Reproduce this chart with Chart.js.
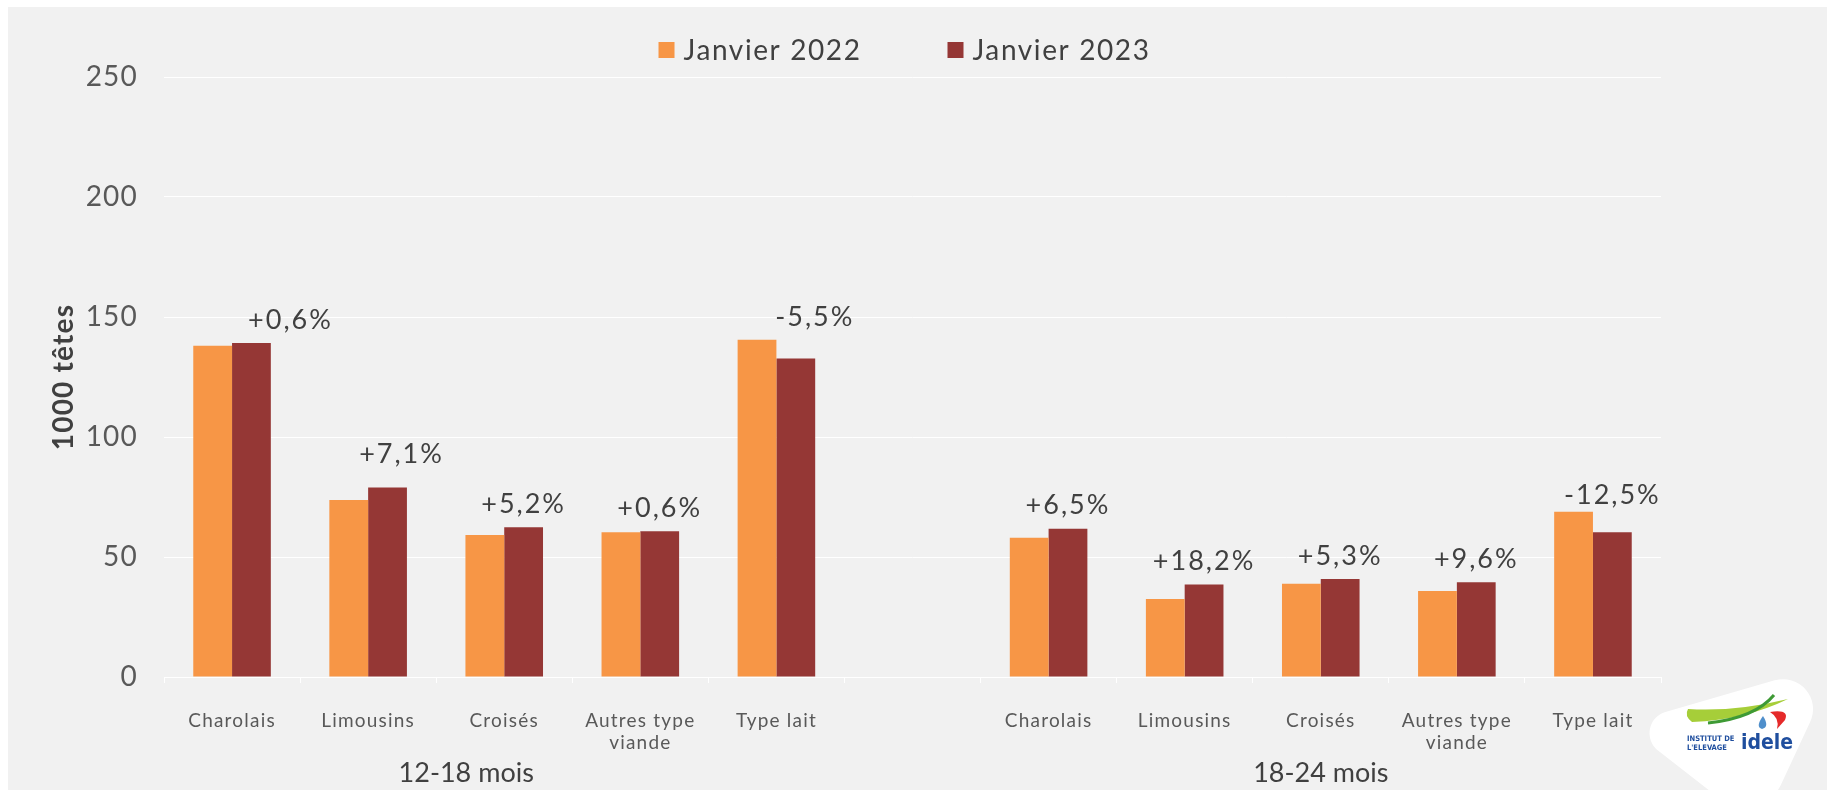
<!DOCTYPE html>
<html><head><meta charset="utf-8">
<script src="https://cdn.jsdelivr.net/npm/chart.js@4.4.0/dist/chart.umd.min.js"></script>
<style>html,body{margin:0;padding:0;background:#fff;overflow:hidden}#wrap{width:1827px;height:790px;position:relative}</style>
</head><body><div id="wrap"><canvas id="c" width="1827" height="790"></canvas></div>
<script>
// ---- data ----
const categories = ['Charolais','Limousins','Croisés',['Autres type','viande'],'Type lait','','Charolais','Limousins','Croisés',['Autres type','viande'],'Type lait'];
const groupOf = [0,0,0,0,0,null,1,1,1,1,1];
const groups = ['12-18 mois','18-24 mois'];
const seriesNames = ['Janvier 2022','Janvier 2023'];
const jan2022 = [138.0, 73.8, 59.2, 60.3, 140.5, null, 58.0, 32.5, 38.9, 35.8, 68.9];
const jan2023 = [139.2, 79.0, 62.4, 60.7, 132.7, null, 61.8, 38.5, 40.8, 39.5, 60.3];
const changes = ['+0,6%','+7,1%','+5,2%','+0,6%','-5,5%','','+6,5%','+18,2%','+5,3%','+9,6%','-12,5%'];
const yTicks = [0,50,100,150,200,250];
const yTitle = '1000 têtes';

const FONT = 'Lato';
const colors = ['#F79646','#953735'];

const bgPlugin = {
  id:'bg',
  beforeDraw(chart){
    const c = chart.ctx;
    c.save();
    c.fillStyle = '#FFFFFF'; c.fillRect(0,0,chart.width,chart.height);
    c.fillStyle = '#F1F1F1'; c.fillRect(8,7,chart.width-8,chart.height-7);
    c.restore();
    c.letterSpacing = '1.2px';
  }
};

const legendPlugin = {
  id:'customLegend',
  afterDraw(chart){
    const c = chart.ctx;
    c.save();
    c.letterSpacing = '1.6px';
    c.font = '28px ' + FONT;
    const box = 16, gapText = 9, gapItem = 86;
    const items = chart.data.datasets.map(d => ({label:d.label, color:d.backgroundColor, w:c.measureText(d.label).width}));
    let total = items.reduce((s,it)=>s+box+gapText+it.w,0) + gapItem*(items.length-1);
    const ca = chart.chartArea;
    let x = (ca.left+ca.right)/2 - total/2 - 8;
    const y = 50;
    c.textBaseline = 'middle'; c.textAlign = 'left';
    items.forEach(it => {
      c.fillStyle = it.color; c.fillRect(x, y-8, box, box);
      c.fillStyle = '#404040'; c.fillText(it.label, x+box+gapText, y+1);
      x += box+gapText+it.w+gapItem;
    });
    c.restore();
  }
};

const annotPlugin = {
  id:'annot',
  afterDatasetsDraw(chart, args, opts){
    const c = chart.ctx;
    const m0 = chart.getDatasetMeta(0), m1 = chart.getDatasetMeta(1);
    c.save();
    c.letterSpacing = '2px';
    c.font = '27px ' + FONT; c.fillStyle = '#404040';
    c.textAlign = 'center'; c.textBaseline = 'middle';
    changes.forEach((t,i) => {
      if(!t) return;
      const e0 = m0.data[i], e1 = m1.data[i];
      const top = Math.min(e0.y, e1.y);
      const sh = (opts.labelShift && opts.labelShift[i]) || [0,0];
      c.fillText(t, e1.x + sh[0], top - 23 + sh[1]);
    });
    // group labels
    const xs = chart.scales.x;
    c.letterSpacing = '0px';
    c.font = '27px ' + FONT; c.fillStyle = '#404040';
    groups.forEach((g,gi) => {
      const idx = groupOf.map((v,i)=>v===gi?i:-1).filter(i=>i>=0);
      const x = (xs.getPixelForValue(idx[0]) + xs.getPixelForValue(idx[idx.length-1]))/2 + ((opts.groupShift && opts.groupShift[gi]) || 0);
      c.fillText(g, x, 773);
    });
    c.restore();
  }
};

const logoPlugin = {
  id:'logo',
  afterDraw(chart){
    const c = chart.ctx;
    c.save();
    c.letterSpacing = '0px';
    // white rounded triangle
    c.fillStyle = '#FFFFFF';
    c.beginPath();
    const A=[1624,724], B=[1838,662], C=[1760,830];
    c.moveTo((A[0]+C[0])/2,(A[1]+C[1])/2);
    c.arcTo(A[0],A[1],B[0],B[1],22);
    c.arcTo(B[0],B[1],C[0],C[1],30);
    c.arcTo(C[0],C[1],A[0],A[1],40);
    c.closePath(); c.fill();
    // green swoosh (light)
    c.fillStyle = '#A6CE39';
    c.beginPath();
    c.moveTo(1688,709);
    c.quadraticCurveTo(1735,712,1788,699);
    c.quadraticCurveTo(1745,720,1692,722);
    c.quadraticCurveTo(1684,716,1688,709);
    c.fill();
    // dark green stroke
    c.strokeStyle = '#3E9A35'; c.lineWidth = 3;
    c.beginPath(); c.moveTo(1708,723); c.quadraticCurveTo(1755,718,1774,695); c.stroke();
    // red shape
    c.fillStyle = '#E52A2A';
    c.beginPath(); c.moveTo(1770,712); c.quadraticCurveTo(1790,709,1785,720); c.lineTo(1777,729); c.quadraticCurveTo(1780,718,1770,712); c.fill();
    // blue drop
    c.fillStyle = '#4F8FCB';
    c.beginPath(); c.moveTo(1763,716); c.quadraticCurveTo(1755,727,1762,729); c.quadraticCurveTo(1770,727,1763,716); c.fill();
    // text
    c.fillStyle = '#1F4E9E';
    c.textBaseline = 'alphabetic'; c.textAlign = 'left';
    c.font = 'bold 7.5px "DejaVu Sans Condensed", "DejaVu Sans"';
    c.fillText('INSTITUT DE', 1687, 741);
    c.fillText("L'ELEVAGE", 1687, 749.5);
    c.font = 'bold 21px "DejaVu Sans Condensed", "DejaVu Sans"';
    c.fillText('idele', 1741, 749);
    c.restore();
  }
};

new Chart(document.getElementById('c'), {
  type:'bar',
  data:{
    labels: categories,
    datasets:[
      {label:seriesNames[0], data:jan2022, backgroundColor:colors[0], categoryPercentage:0.57, barPercentage:1.0},
      {label:seriesNames[1], data:jan2023, backgroundColor:colors[1], categoryPercentage:0.57, barPercentage:1.0}
    ]
  },
  options:{
    responsive:false, animation:false, devicePixelRatio:1,
    layout:{padding:{top:77, right:166, bottom:0, left:0}},
    plugins:{
      legend:{display:false}, tooltip:{enabled:false},
      annot:{
        labelShift:{0:[39,0], 1:[14,-10], 4:[19,0], 10:[0,7]},
        groupShift:[-38,0]
      }
    },
    scales:{
      x:{
        grid:{offset:true, drawOnChartArea:false, drawTicks:true, tickLength:6, color:'#FFFFFF', lineWidth:1},
        border:{display:true, color:'#FFFFFF', width:1},
        ticks:{font:{family:FONT, size:19}, color:'#595959', padding:26, maxRotation:0, autoSkip:false},
        afterFit(s){ s.height = 113; }
      },
      y:{
        min:0, max:250,
        afterBuildTicks(s){ s.ticks = yTicks.map(v=>({value:v})); },
        grid:{color:'#FFFFFF', drawTicks:false, lineWidth:1},
        border:{display:false},
        ticks:{font:{family:FONT, size:28}, color:'#595959', padding:26},
        title:{display:true, text:yTitle, font:{family:FONT, size:28, weight:'bold'}, color:'#404040', padding:{top:47, bottom:0}},
        afterFit(s){ s.width = 164; }
      }
    }
  },
  plugins:[bgPlugin, legendPlugin, annotPlugin, logoPlugin]
});
</script>
</body></html>
